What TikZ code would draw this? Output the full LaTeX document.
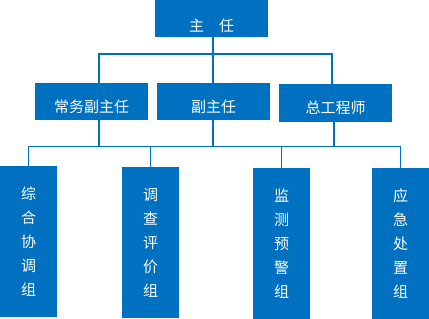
\documentclass[tikz,border=0pt]{standalone}
\usepackage{fontspec}
\setmainfont{Noto Sans CJK SC}
\usetikzlibrary{positioning}
\definecolor{orgblue}{HTML}{0070C0}

\begin{document}
\begin{tikzpicture}[
  x=1pt, y=-1pt,
  headbox/.style={fill=orgblue, text=white, inner sep=0pt, minimum width=113pt, font=\fontsize{15}{15}\selectfont},
  groupbox/.style={fill=orgblue, text=white, inner sep=0pt, minimum width=57pt, minimum height=151pt, align=center, font=\fontsize{15}{24}\selectfont},
  link/.style={draw=orgblue, line width=1.3pt}
]
\useasboundingbox (0,0) rectangle (429,319);

% leaders
\node[headbox, text height=31pt, text depth=6pt] (zhuren) at (211.5,18.5) {主\quad 任};
\node[headbox, text height=29pt, text depth=8pt] (cwfzr) at (91.5,101.5) {常务副主任};
\node[headbox, text height=29pt, text depth=8pt] (fzr) at (213.5,101.5) {副主任};
\node[headbox, text height=29pt, text depth=9pt] (zgcs) at (335.5,103) {总工程师};

% groups
\node[groupbox] (zhxt) at (28.5,241.5) {综\\合\\协\\调\\组};
\node[groupbox] (dcpj) at (150.5,242.5) {调\\查\\评\\价\\组};
\node[groupbox] (jcyj) at (281.5,243.5) {监\\测\\预\\警\\组};
\node[groupbox] (yjcz) at (400.5,243.5) {应\\急\\处\\置\\组};

% connectors
\coordinate (bus1) at (213,54);
\coordinate (bus2) at (213,146.5);
\coordinate (left1) at (99,0);
\coordinate (right1) at (332,0);
\coordinate (right2) at (334,0);

\draw[link] (zhuren.south -| bus1) -- (bus1) -- (fzr.north -| bus1);
\draw[link] (cwfzr.north -| left1) -- (left1 |- bus1) -- (right1 |- bus1) -- (zgcs.north -| right1);

\draw[link] (cwfzr.south -| left1) -- (left1 |- bus2);
\draw[link] (fzr.south -| bus2) -- (bus2);
\draw[link] (zgcs.south -| right2) -- (right2 |- bus2);
\draw[link] (zhxt.north) -- (zhxt.north |- bus2) -- (yjcz.north |- bus2) -- (yjcz.north);
\draw[link] (dcpj.north) -- (dcpj.north |- bus2);
\draw[link] (jcyj.north) -- (jcyj.north |- bus2);
\end{tikzpicture}
\end{document}
